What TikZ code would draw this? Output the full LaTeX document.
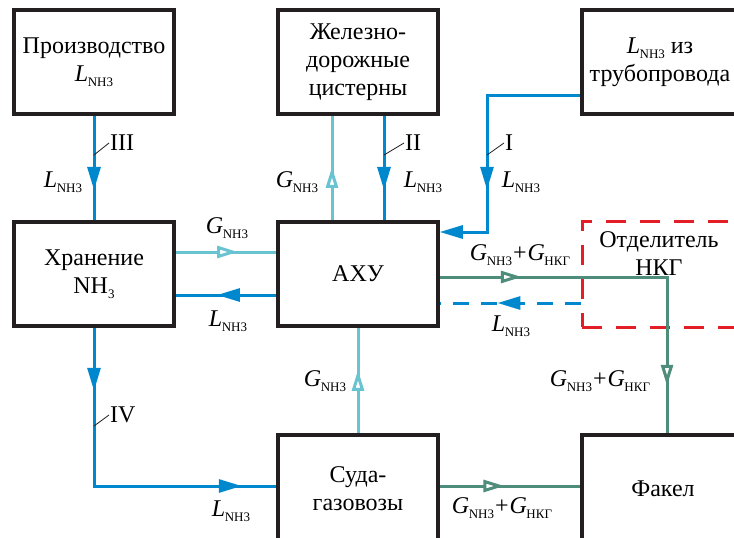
\documentclass[tikz,border=0pt]{standalone}
\usepackage{fontspec}
\setmainfont{Liberation Serif}
\usepackage{tikz}
\usetikzlibrary{arrows.meta, positioning, calc, decorations.markings}
\usepackage{xcolor}
\definecolor{boxblack}{RGB}{35,31,32}
\definecolor{liqblue}{RGB}{0,136,206}
\definecolor{gascyan}{RGB}{105,195,208}
\definecolor{mixgreen}{RGB}{78,140,124}
\definecolor{sepred}{RGB}{228,30,38}

\newcommand{\subsc}[1]{\raisebox{-0.45ex}{\fontsize{13}{13}\selectfont #1}}
\newcommand{\Lnh}{\textit{L}\kern-0.5pt\subsc{NH3}}
\newcommand{\Gnh}{\textit{G}\kern-0.5pt\subsc{NH3}}
\newcommand{\Gnkg}{\textit{G}\kern-0.5pt\subsc{НКГ}}
\newcommand{\Gsum}{\Gnh\kern1pt+\kern1pt\Gnkg}

\tikzset{
  fulltip/.tip={Triangle[length=23pt,width=13pt]},
  opentip/.tip={Triangle[length=21pt,width=12pt,fill=white]},
  blok/.style={draw=boxblack, line width=3.5pt, minimum width=160pt, minimum height=104pt, align=center, inner sep=0pt},
  sepbox/.style={draw=sepred, line width=3pt, dash pattern=on 20pt off 14pt, minimum width=156pt, minimum height=106pt},
  liq/.style={draw=liqblue, line width=3pt},
  gas/.style={draw=gascyan, line width=3pt},
  mix/.style={draw=mixgreen, line width=3pt},
  liqdash/.style={dash pattern=on 16pt off 12pt},
  lab/.style={inner sep=1pt},
  tick/.style={draw=boxblack, line width=0.8pt},
  midarr/.style={postaction={decorate, decoration={markings, mark=at position #1 with {\arrow{fulltip}}}}},
  openmid/.style={postaction={decorate, decoration={markings, mark=at position #1 with {\arrow{opentip}}}}}
}

\begin{document}
\begin{tikzpicture}[x=1pt, y=-1pt, font=\rmfamily\fontsize{24}{28}\selectfont]
  \path[use as bounding box, clip] (0,0) rectangle (734,538);

  % blocks
  \node[blok] (prod) at (94,62) {Производство\\\Lnh};
  \node[blok] (zhd) at (358,62) {Железно-\\дорожные\\цистерны};
  \node[blok, minimum width=156pt] (truba) at (660,62) {\Lnh{} из\\трубопровода};
  \node[blok] (hran) at (94,274) {Хранение\\NH\subsc{3}};
  \node[blok] (ahu) at (358,274) {АХУ};
  \node[sepbox] (sep) at (660,274) {};
  \node[align=center, inner sep=0pt] (septext) at (659,254) {Отделитель\\НКГ};
  \node[blok, minimum height=108pt] (suda) at (358,489) {Суда-\\газовозы};
  \node[blok, minimum width=162pt, minimum height=108pt] (fakel) at (663,489) {Факел};

  \coordinate (knee1) at (487,232);
  \coordinate (knee4) at (94,486);
  \coordinate (knee7) at (667,277);

  % flows
  \draw[liq, midarr=.71] (prod) -- (hran);
  \draw[gas, openmid=.51] ([xshift=-26pt]ahu.north) -- ([xshift=-26pt]zhd.south);
  \draw[liq, midarr=.71] ([xshift=26pt]zhd.south) -- ([xshift=26pt]ahu.north);
  \draw[liq, midarr=188pt, -{fulltip}] ([yshift=-33pt]truba.west) -| (knee1) -- (knee1 -| ahu.east);
  \draw[gas, openmid=.62] ([yshift=22pt]hran.east) -- ([yshift=22pt]ahu.west);
  \draw[liq, midarr=.59] ([yshift=-21pt]ahu.west) -- ([yshift=-21pt]hran.east);
  \draw[liq, midarr=63pt, midarr=306pt] (hran) -- (knee4) -- (knee4 -| suda.west);
  \draw[gas, openmid=.6] (suda) -- (ahu);
  \draw[mix, openmid=82pt, openmid=336pt] ([yshift=-3pt]ahu.east) -- (knee7) -- (knee7 |- fakel.north);
  \draw[liq, liqdash, midarr=.59] ([yshift=-29pt]sep.west) -- ([yshift=-29pt]ahu.east);
  \draw[mix, openmid=.46] ([yshift=3pt]suda.east) -- ([yshift=3pt]fakel.west);

  % labels
  \node[lab] (lIII) at (63,182) {\Lnh};
  \node[lab] (gzhd) at (297,182) {\Gnh};
  \node[lab] (lII) at (423,182) {\Lnh};
  \node[lab] (lI) at (521,182) {\Lnh};
  \node[lab] (ghran) at (227,228) {\Gnh};
  \node[lab] (lhran) at (228,321) {\Lnh};
  \node[lab] (gsuda) at (325,381) {\Gnh};
  \node[lab] (lIV) at (231,511) {\Lnh};
  \node[lab] (gtop) at (520,255) {\Gsum};
  \node[lab] (lsep) at (511,326) {\Lnh};
  \node[lab] (gvert) at (600,381) {\Gsum};
  \node[lab] (gbot) at (502,508) {\Gsum};

  \node[lab, anchor=west] (nIII) at (109,143) {III};
  \node[lab, anchor=west] (nII) at (404,143) {II};
  \node[lab, anchor=west] (nI) at (504,143) {I};
  \node[lab, anchor=west] (nIV) at (109,415) {IV};
  \coordinate (tIII) at (94,155);
  \coordinate (tII) at (384,155);
  \coordinate (tI) at (487,155);
  \coordinate (tIV) at (94,426);
  \draw[tick] (tIII) -- (nIII.west);
  \draw[tick] (tII) -- (nII.west);
  \draw[tick] (tI) -- (nI.west);
  \draw[tick] (tIV) -- (nIV.west);
\end{tikzpicture}
\end{document}
